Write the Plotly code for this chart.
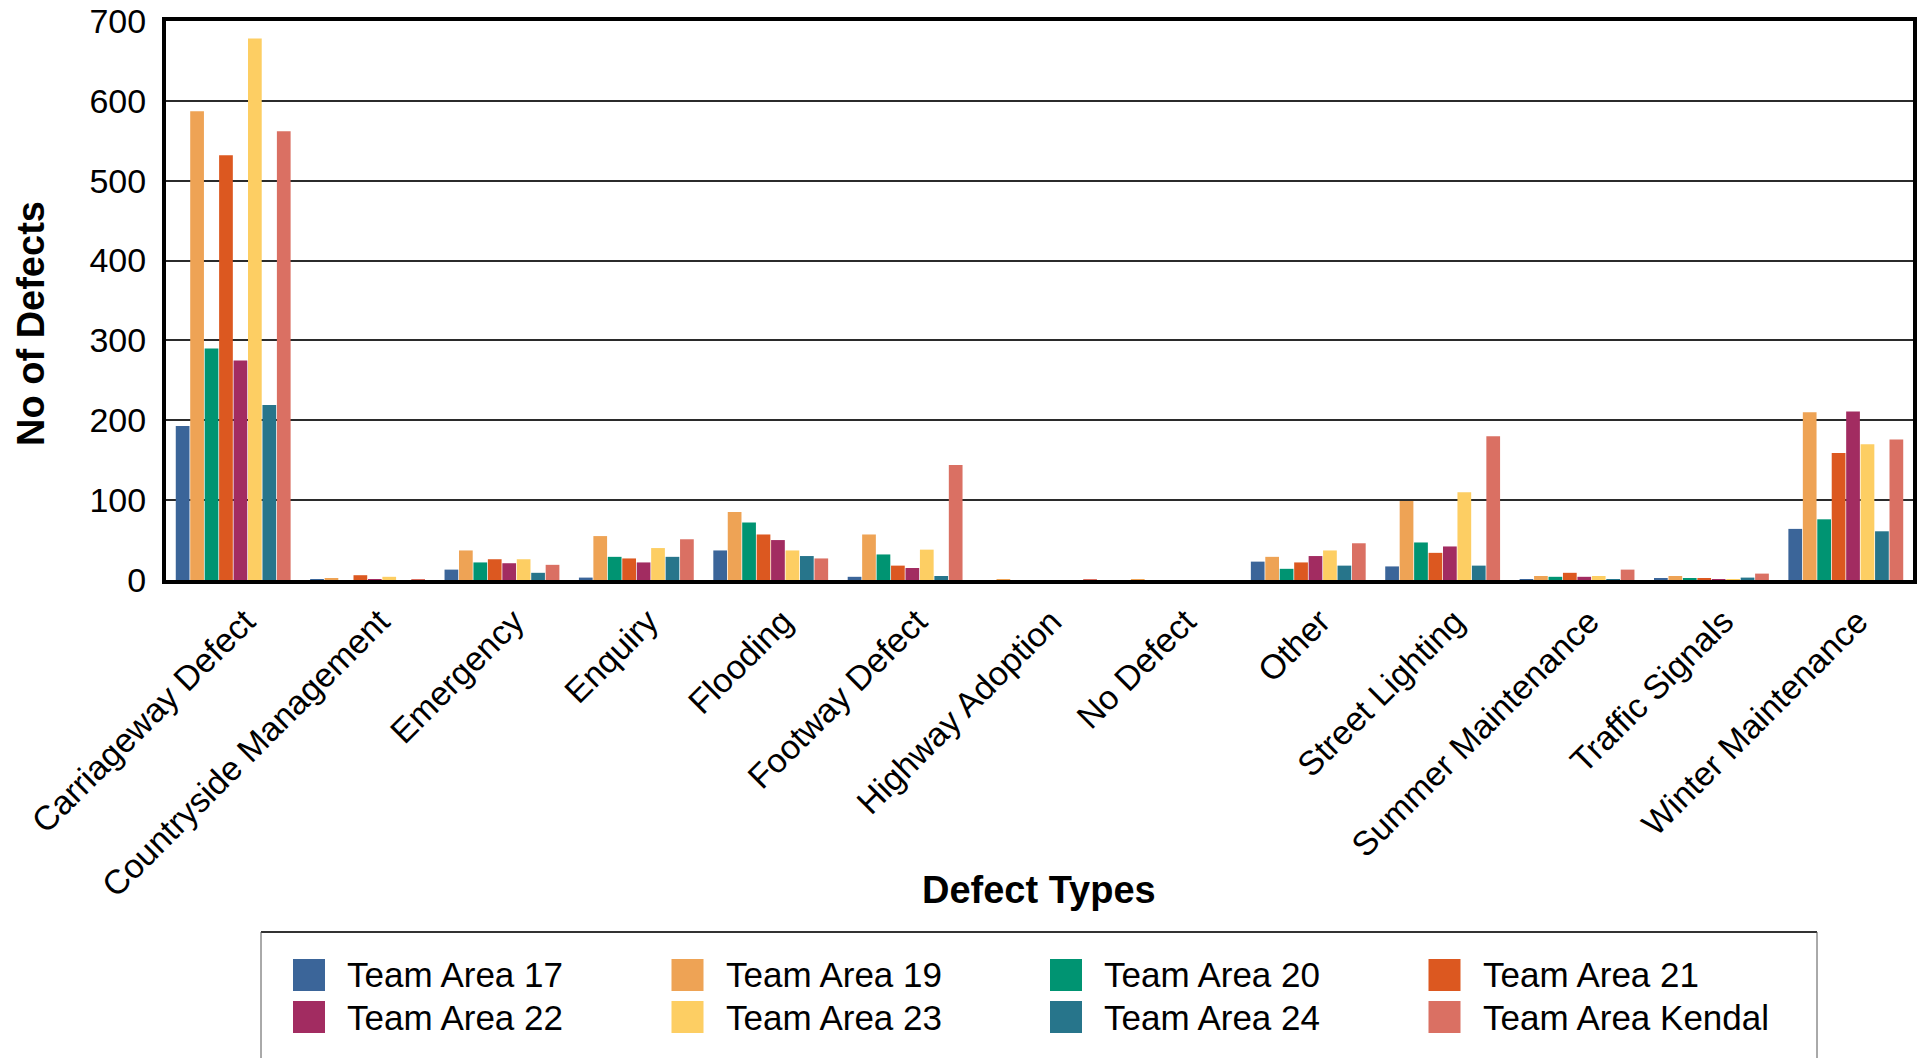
import plotly.graph_objects as go

categories = ["Carriageway Defect", "Countryside Management", "Emergency", "Enquiry",
              "Flooding", "Footway Defect", "Highway Adoption", "No Defect", "Other",
              "Street Lighting", "Summer Maintenance", "Traffic Signals", "Winter Maintenance"]

team_area_17 = [193, 1, 13, 3, 37, 4, 0, 0, 23, 17, 1, 2, 64]
team_area_19 = [587, 2, 37, 55, 85, 57, 1, 1, 29, 99, 5, 5, 210]
team_area_20 = [290, 0, 22, 29, 72, 32, 0, 0, 14, 47, 4, 2, 76]
team_area_21 = [532, 6, 26, 27, 57, 18, 0, 0, 22, 34, 9, 2, 159]
team_area_22 = [275, 1, 21, 22, 50, 15, 0, 0, 30, 42, 4, 1, 211]
team_area_23 = [678, 4, 26, 40, 37, 38, 0, 0, 37, 110, 5, 1, 170]
team_area_24 = [219, 0, 9, 29, 30, 5, 0, 0, 18, 18, 1, 3, 61]
team_area_kendal = [562, 1, 19, 51, 27, 144, 1, 0, 46, 180, 13, 8, 176]

series_names = ["Team Area 17", "Team Area 19", "Team Area 20", "Team Area 21",
                "Team Area 22", "Team Area 23", "Team Area 24", "Team Area Kendal"]
series_values = [team_area_17, team_area_19, team_area_20, team_area_21,
                 team_area_22, team_area_23, team_area_24, team_area_kendal]
colors = ["#3B6599", "#EEA355", "#009472", "#DC5820",
          "#A22C61", "#FDCE63", "#27758B", "#DA7063"]

y_ticks = [0, 100, 200, 300, 400, 500, 600, 700]

W, H = 1919, 1058
ML, MR, MT, MB = 166, 6, 21, 478
PW = W - ML - MR
PH = H - MT - MB


def px(x):
    return (x - ML) / PW


def py(y):
    return (H - MB - y) / PH


FONT = "Liberation Sans, Arial, sans-serif"

fig = go.Figure()
for name, vals, col in zip(series_names, series_values, colors):
    fig.add_trace(go.Bar(x=categories, y=vals, name=name, marker_color=col,
                         marker_line_width=0, showlegend=False))

shapes = []
annotations = []

# legend box
shapes.append(dict(type="line", xref="paper", yref="paper", x0=px(261), x1=px(1817),
                   y0=py(932), y1=py(932), line=dict(color="#333333", width=2)))
shapes.append(dict(type="line", xref="paper", yref="paper", x0=px(261), x1=px(261),
                   y0=py(932), y1=py(1070), line=dict(color="#555555", width=1)))
shapes.append(dict(type="line", xref="paper", yref="paper", x0=px(1817), x1=px(1817),
                   y0=py(932), y1=py(1070), line=dict(color="#555555", width=1)))

for i, (name, col) in enumerate(zip(series_names, colors)):
    c = i % 4
    r = i // 4
    x0 = 293 + c * 378.5
    yc = 975 + r * 42
    shapes.append(dict(type="rect", xref="paper", yref="paper",
                       x0=px(x0), x1=px(x0 + 32), y0=py(yc - 16), y1=py(yc + 16),
                       fillcolor=col, line=dict(width=0)))
    annotations.append(dict(xref="paper", yref="paper", x=px(x0 + 52), y=py(yc),
                            xanchor="left", yanchor="middle", text=name, showarrow=False,
                            font=dict(family=FONT, size=35, color="black")))

# axis titles
annotations.append(dict(xref="paper", yref="paper", x=px(31), y=py(324),
                        xanchor="center", yanchor="middle", textangle=-90,
                        text="<b>No of Defects</b>", showarrow=False,
                        font=dict(family=FONT, size=38, color="black")))
annotations.append(dict(xref="paper", yref="paper", x=px(1039), y=py(890),
                        xanchor="center", yanchor="middle",
                        text="<b>Defect Types</b>", showarrow=False,
                        font=dict(family=FONT, size=38, color="black")))

fig.update_layout(
    width=W, height=H,
    margin=dict(l=ML, r=MR, t=MT, b=MB, autoexpand=False),
    paper_bgcolor="white", plot_bgcolor="white",
    barmode="group", bargap=0.14, bargroupgap=0.05,
    font=dict(family=FONT, color="black"),
    shapes=shapes, annotations=annotations,
    showlegend=False,
)
fig.update_xaxes(
    type="category", tickangle=-45, tickfont=dict(family=FONT, size=34, color="black"),
    showline=True, linecolor="black", linewidth=4, mirror=True,
    showgrid=False, ticks="", automargin=False, ticklabelstandoff=4, ticklabelshift=12,
)
fig.update_yaxes(
    range=[0, 700], tickvals=y_ticks, tickfont=dict(family=FONT, size=34, color="black"),
    showline=True, linecolor="black", linewidth=4, mirror=True,
    showgrid=True, gridcolor="#2b2b2b", gridwidth=2, zeroline=False,
    ticks="", automargin=False, ticklabelstandoff=9,
)

fig.write_html("out.html", config={"displayModeBar": False},
               post_script="document.body.style.margin='0';document.body.style.overflow='hidden';")
